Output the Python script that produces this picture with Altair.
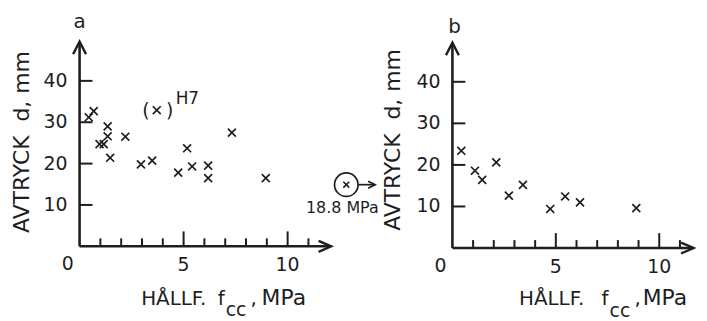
import altair as alt
import pandas as pd

INK = "#1e1e1e"
FONT = "DejaVu Sans"

# ---------------- data ----------------
# panel a : HÅLLF. f_cc (MPa) vs AVTRYCK d (mm)
a_fcc = [0.44, 0.68, 0.96, 1.16, 1.35, 1.35, 1.47, 2.20, 2.95, 3.49, 4.74, 5.17, 5.41, 6.18, 6.18, 7.32, 8.95]
a_d = [31.2, 32.7, 24.7, 24.7, 29.0, 26.6, 21.4, 26.5, 19.8, 20.7, 17.8, 23.7, 19.3, 19.5, 16.5, 27.5, 16.5]
a_h7_fcc = [3.71]
a_h7_d = [32.9]
a_h7_label = "H7"
a_outlier_pos = [12.82]       # drawn beyond the axis end (real value 18.8 MPa)
a_outlier_d = [14.9]
a_outlier_label = "18.8 MPa"

# panel b
b_fcc = [0.43, 1.09, 1.44, 2.12, 2.73, 3.41, 4.73, 5.45, 6.17, 8.89]
b_d = [23.4, 18.6, 16.4, 20.6, 12.6, 15.2, 9.4, 12.4, 11.0, 9.6]

# axes
x_minor_ticks = [1, 2, 3, 4, 6, 7, 8, 9, 11]
x_major_ticks = [5, 10]
x_tick_labels = [5, 10]
y_ticks = [10, 20, 30, 40]
y_title = "AVTRYCK\u00a0 d, mm"
x_title_parts = ["HÅLLF.", "f", "cc", ",", "MPa"]

# ---------------- layout (not data) ----------------
layout = {
    "a": dict(width=375, height=305, xdom=[-3.44, 14.48], ydom=[-15.92, 57.40],
              xtip=12.09, ytip=49.5, ytitle=(-2.77, 25.2), letter=(0.0, 54.3),
              xt_x=[2.96, 6.64, 7.02, 8.22, 8.75], xt_y=-14.2, xt_sub_y=-16.9),
    "b": dict(width=316, height=305, xdom=[-3.46, 11.73], ydom=[-15.43, 57.54],
              xtip=11.66, ytip=49.4, ytitle=(-2.88, 26.0), letter=(0.1, 53.2),
              xt_x=[3.22, 7.21, 7.60, 8.80, 9.20], xt_y=-13.76, xt_sub_y=-16.6),
}

CROSS = "M-1,-1L1,1M-1,1L1,-1"
ARROW_UP = "M-1.08,2.1L0,0L1.08,2.1"
ARROW_RIGHT = "M-2.1,-0.92L0,0L-2.1,0.92"
SMALL_RIGHT = "M-2,-1L0,0L-2,1"


def panel(key, letter, fcc, d, extra=None):
    L = layout[key]
    xs = alt.Scale(domain=L["xdom"], nice=False, zero=False)
    ys = alt.Scale(domain=L["ydom"], nice=False, zero=False)
    X = lambda f="x": alt.X(f + ":Q", scale=xs, axis=None)
    Y = lambda f="y": alt.Y(f + ":Q", scale=ys, axis=None)

    layers = []
    axes_df = pd.DataFrame({"x": [0, 0], "y": [0, 0], "x2": [L["xtip"], 0], "y2": [0, L["ytip"]]})
    layers.append(alt.Chart(axes_df).mark_rule(color=INK, strokeWidth=2.6).encode(
        x=X(), y=Y(), x2="x2:Q", y2="y2:Q"))

    minor_df = pd.DataFrame({"x": x_minor_ticks, "y": [0] * len(x_minor_ticks)})
    layers.append(alt.Chart(minor_df).mark_rule(color=INK, strokeWidth=2, y2Offset=-8).encode(
        x=X(), y=Y(), y2=alt.Y2("y:Q")))
    major_df = pd.DataFrame({"x": x_major_ticks, "y": [0] * len(x_major_ticks)})
    layers.append(alt.Chart(major_df).mark_rule(color=INK, strokeWidth=2, y2Offset=-15).encode(
        x=X(), y=Y(), y2=alt.Y2("y:Q")))
    yt_df = pd.DataFrame({"x": [0] * len(y_ticks), "y": y_ticks})
    layers.append(alt.Chart(yt_df).mark_rule(color=INK, strokeWidth=2, x2Offset=13).encode(
        x=X(), y=Y(), x2=alt.X2("x:Q")))

    up_df = pd.DataFrame({"x": [0], "y": [L["ytip"]]})
    layers.append(alt.Chart(up_df).mark_point(shape=ARROW_UP, size=144, filled=False, color=INK,
                                              strokeWidth=2.4, opacity=1).encode(x=X(), y=Y()))
    rt_df = pd.DataFrame({"x": [L["xtip"]], "y": [0]})
    layers.append(alt.Chart(rt_df).mark_point(shape=ARROW_RIGHT, size=144, filled=False, color=INK,
                                              strokeWidth=2.4, opacity=1).encode(x=X(), y=Y()))

    # tick labels
    ylab_df = pd.DataFrame({"x": [0] * len(y_ticks), "y": y_ticks, "t": [str(v) for v in y_ticks]})
    layers.append(alt.Chart(ylab_df).mark_text(font=FONT, fontSize=19, color=INK, align="right",
                                               baseline="middle", dx=-12).encode(x=X(), y=Y(), text="t:N"))
    xlab_df = pd.DataFrame({"x": x_tick_labels, "y": [0] * len(x_tick_labels),
                            "t": [str(v) for v in x_tick_labels]})
    layers.append(alt.Chart(xlab_df).mark_text(font=FONT, fontSize=19, color=INK, align="center",
                                               baseline="middle", dy=19).encode(x=X(), y=Y(), text="t:N"))
    zero_df = pd.DataFrame({"x": [0], "y": [0], "t": ["0"]})
    layers.append(alt.Chart(zero_df).mark_text(font=FONT, fontSize=19, color=INK, align="center",
                                               baseline="middle", dx=-12, dy=18).encode(x=X(), y=Y(), text="t:N"))

    # titles
    ytl_df = pd.DataFrame({"x": [L["ytitle"][0]], "y": [L["ytitle"][1]], "t": [y_title]})
    layers.append(alt.Chart(ytl_df).mark_text(font=FONT, fontSize=22, color=INK, angle=270,
                                              align="center", baseline="middle").encode(x=X(), y=Y(), text="t:N"))
    let_df = pd.DataFrame({"x": [L["letter"][0]], "y": [L["letter"][1]], "t": [letter]})
    layers.append(alt.Chart(let_df).mark_text(font=FONT, fontSize=20, color=INK, align="center",
                                              baseline="middle").encode(x=X(), y=Y(), text="t:N"))
    main_idx = [0, 1, 3]
    xt_df = pd.DataFrame({"x": [L["xt_x"][i] for i in main_idx], "y": [L["xt_y"]] * 3,
                          "t": [x_title_parts[i] for i in main_idx]})
    layers.append(alt.Chart(xt_df).mark_text(font=FONT, fontSize=20, color=INK, align="left",
                                             baseline="alphabetic").encode(x=X(), y=Y(), text="t:N"))
    unit_df = pd.DataFrame({"x": [L["xt_x"][4]], "y": [L["xt_y"]], "t": [x_title_parts[4]]})
    layers.append(alt.Chart(unit_df).mark_text(font=FONT, fontSize=22, color=INK, align="left",
                                               baseline="alphabetic").encode(x=X(), y=Y(), text="t:N"))
    sub_df = pd.DataFrame({"x": [L["xt_x"][2]], "y": [L["xt_sub_y"]], "t": [x_title_parts[2]]})
    layers.append(alt.Chart(sub_df).mark_text(font=FONT, fontSize=19, color=INK, align="left",
                                              baseline="alphabetic").encode(x=X(), y=Y(), text="t:N"))

    # data points
    pts = pd.DataFrame({"x": fcc, "y": d})
    layers.append(alt.Chart(pts).mark_point(shape=CROSS, size=64, filled=False, color=INK,
                                            strokeWidth=1.7, opacity=1).encode(x=X(), y=Y()))

    if extra:
        layers += extra(X, Y)
    return alt.layer(*layers).properties(width=L["width"], height=L["height"])


def extra_a(X, Y):
    out = []
    h7 = pd.DataFrame({"x": a_h7_fcc, "y": a_h7_d})
    out.append(alt.Chart(h7).mark_point(shape=CROSS, size=64, filled=False, color=INK,
                                        strokeWidth=1.7, opacity=1).encode(x=X(), y=Y()))
    par = pd.DataFrame({"x": a_h7_fcc * 2, "y": a_h7_d * 2, "t": ["(", ")"]})
    out.append(alt.Chart(par.iloc[[0]]).mark_text(font=FONT, fontSize=19, color=INK, align="center",
                                                  baseline="middle", dx=-11, dy=1).encode(x=X(), y=Y(), text="t:N"))
    out.append(alt.Chart(par.iloc[[1]]).mark_text(font=FONT, fontSize=19, color=INK, align="center",
                                                  baseline="middle", dx=13, dy=1).encode(x=X(), y=Y(), text="t:N"))
    lab = pd.DataFrame({"x": a_h7_fcc, "y": a_h7_d, "t": [a_h7_label]})
    out.append(alt.Chart(lab).mark_text(font=FONT, fontSize=17, color=INK, align="left",
                                        baseline="middle", dx=19, dy=-11).encode(x=X(), y=Y(), text="t:N"))

    o = pd.DataFrame({"x": a_outlier_pos, "y": a_outlier_d, "t": [a_outlier_label]})
    out.append(alt.Chart(o).mark_point(shape="circle", size=560, filled=False, color=INK,
                                       strokeWidth=1.7, opacity=1).encode(x=X(), y=Y()))
    out.append(alt.Chart(o).mark_point(shape=CROSS, size=36, filled=False, color=INK,
                                       strokeWidth=1.6, opacity=1).encode(x=X(), y=Y()))
    out.append(alt.Chart(o).mark_rule(color=INK, strokeWidth=1.7, xOffset=12, x2Offset=29).encode(
        x=X(), x2=alt.X2("x:Q"), y=Y()))
    out.append(alt.Chart(o).mark_point(shape=SMALL_RIGHT, size=49, filled=False, color=INK,
                                       strokeWidth=1.7, opacity=1, xOffset=29).encode(x=X(), y=Y()))
    out.append(alt.Chart(o).mark_text(font=FONT, fontSize=16, color=INK, align="center",
                                      baseline="middle", dx=-4, dy=23).encode(x=X(), y=Y(), text="t:N"))
    return out


chart_a = panel("a", "a", a_fcc, a_d, extra_a)
chart_b = panel("b", "b", b_fcc, b_d)

chart = alt.hconcat(chart_a, chart_b, spacing=0, bounds="flush", padding=0,
                    background="white").configure_view(stroke=None)

chart.save("out.html", embed_options={"renderer": "svg", "actions": False})
